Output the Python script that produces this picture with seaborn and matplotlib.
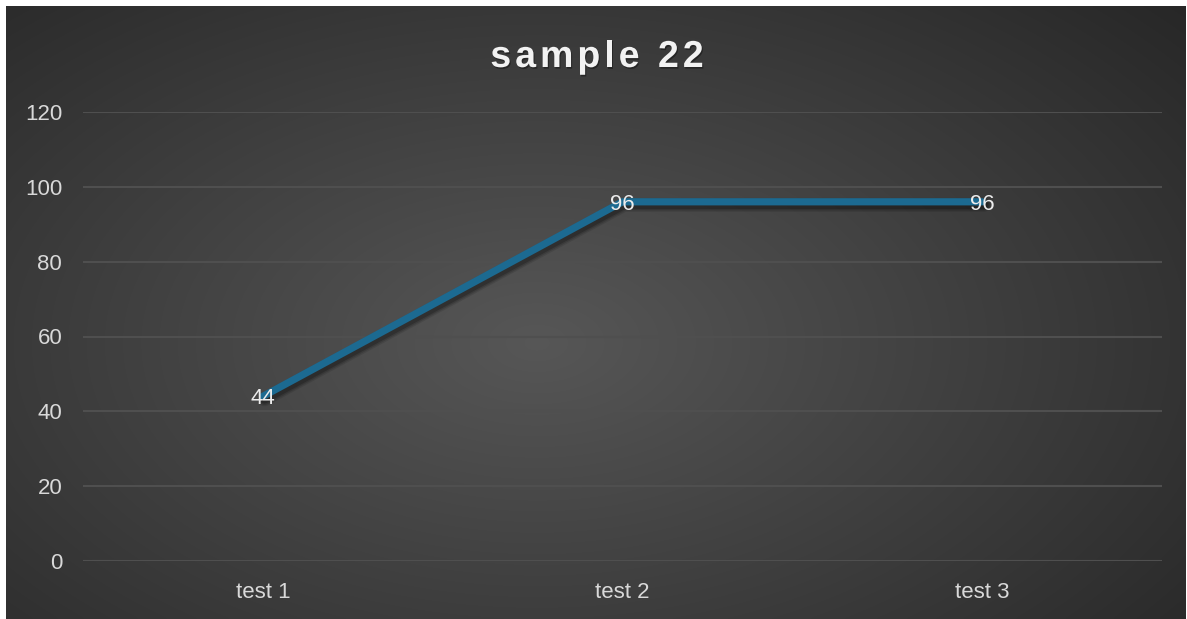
import numpy as np
import pandas as pd
import matplotlib
matplotlib.use("Agg")
import matplotlib.pyplot as plt
import matplotlib.patheffects as pe
from matplotlib.font_manager import FontProperties, findfont, get_font
import seaborn as sns

categories = ["test 1", "test 2", "test 3"]
values = [44, 96, 96]
y_ticks = [0, 20, 40, 60, 80, 100, 120]
title = "sample 22"

df = pd.DataFrame({"category": categories, "value": values})

sns.set_theme(style="dark")
plt.rcParams["font.family"] = ["Liberation Sans", "DejaVu Sans"]

W, H, DPI = 1187, 619, 100
fig = plt.figure(figsize=(W / DPI, H / DPI), dpi=DPI, facecolor="white")

# dark radial-gradient background panel
bg_ax = fig.add_axes([6 / W, 0, (1186 - 6) / W, (619 - 6) / H])
bg_ax.set_axis_off()
yy, xx = np.mgrid[0:1:300j, 0:1:600j]
r = np.sqrt(((xx - 0.45) / 0.75) ** 2 + ((yy - 0.55) / 0.85) ** 2)
shade = np.clip(0.34 - 0.19 * r, 0.15, 0.35)
bg_ax.imshow(np.dstack([shade, shade, shade]), aspect="auto", extent=[0, 1, 0, 1],
             interpolation="bicubic")

# plotting area
left, right = 83, 1162
top, bottom = 112, 561
ax = fig.add_axes([left / W, 1 - bottom / H, (right - left) / W, (bottom - top) / H])
ax.patch.set_alpha(0)

# soft drop shadow under the series line
soft_shadow = [pe.SimpleLineShadow(offset=(1.2, -2.2), shadow_color="black", alpha=a, linewidth=lw)
               for a, lw in [(0.10, 10), (0.14, 8), (0.20, 6)]]
line_color = "#1c6a91"
sns.lineplot(data=df, x="category", y="value", ax=ax, color=line_color, linewidth=5.2,
             sort=False, path_effects=soft_shadow + [pe.Normal()])

ax.set_xlim(-0.5, len(categories) - 0.5)
ax.set_ylim(0, 120)
ax.set_yticks(y_ticks)
ax.yaxis.grid(True, color="#4f4f4f", linewidth=1.5)
ax.xaxis.grid(False)
ax.set_axisbelow(True)
for s in ax.spines.values():
    s.set_visible(False)
ax.set_xlabel("")
ax.set_ylabel("")
ax.tick_params(axis="both", length=0, colors="#d9d9d9", labelsize=16)
ax.tick_params(axis="y", pad=15)
ax.tick_params(axis="x", pad=15)

for i, v in enumerate(values):
    ax.text(i, v, f"{v}", color="#ececec", fontsize=16, ha="center", va="center_baseline")

# title with widened letter spacing, placed glyph by glyph
title_size = 27
tracking_px = 4.0
fp = FontProperties(family="Liberation Sans", weight="bold", size=title_size)
ft = get_font(findfont(fp))
ft.set_size(title_size, DPI)
advances = []
for ch in title:
    g = ft.load_char(ord(ch))
    advances.append(g.linearHoriAdvance / 65536)
total = sum(advances) + tracking_px * (len(title) - 1)
x_px = 597 - total / 2
baseline_px = 67
title_fx = [pe.SimplePatchShadow(offset=(0.8, -1.2), shadow_rgbFace="black", alpha=0.35),
            pe.Normal()]
for ch, adv in zip(title, advances):
    if ch != " ":
        fig.text(x_px / W, 1 - baseline_px / H, ch, fontproperties=fp, color="#f2f2f2",
                 ha="left", va="baseline", path_effects=title_fx)
    x_px += adv + tracking_px

fig.savefig("out.png", dpi=DPI, facecolor="white")
